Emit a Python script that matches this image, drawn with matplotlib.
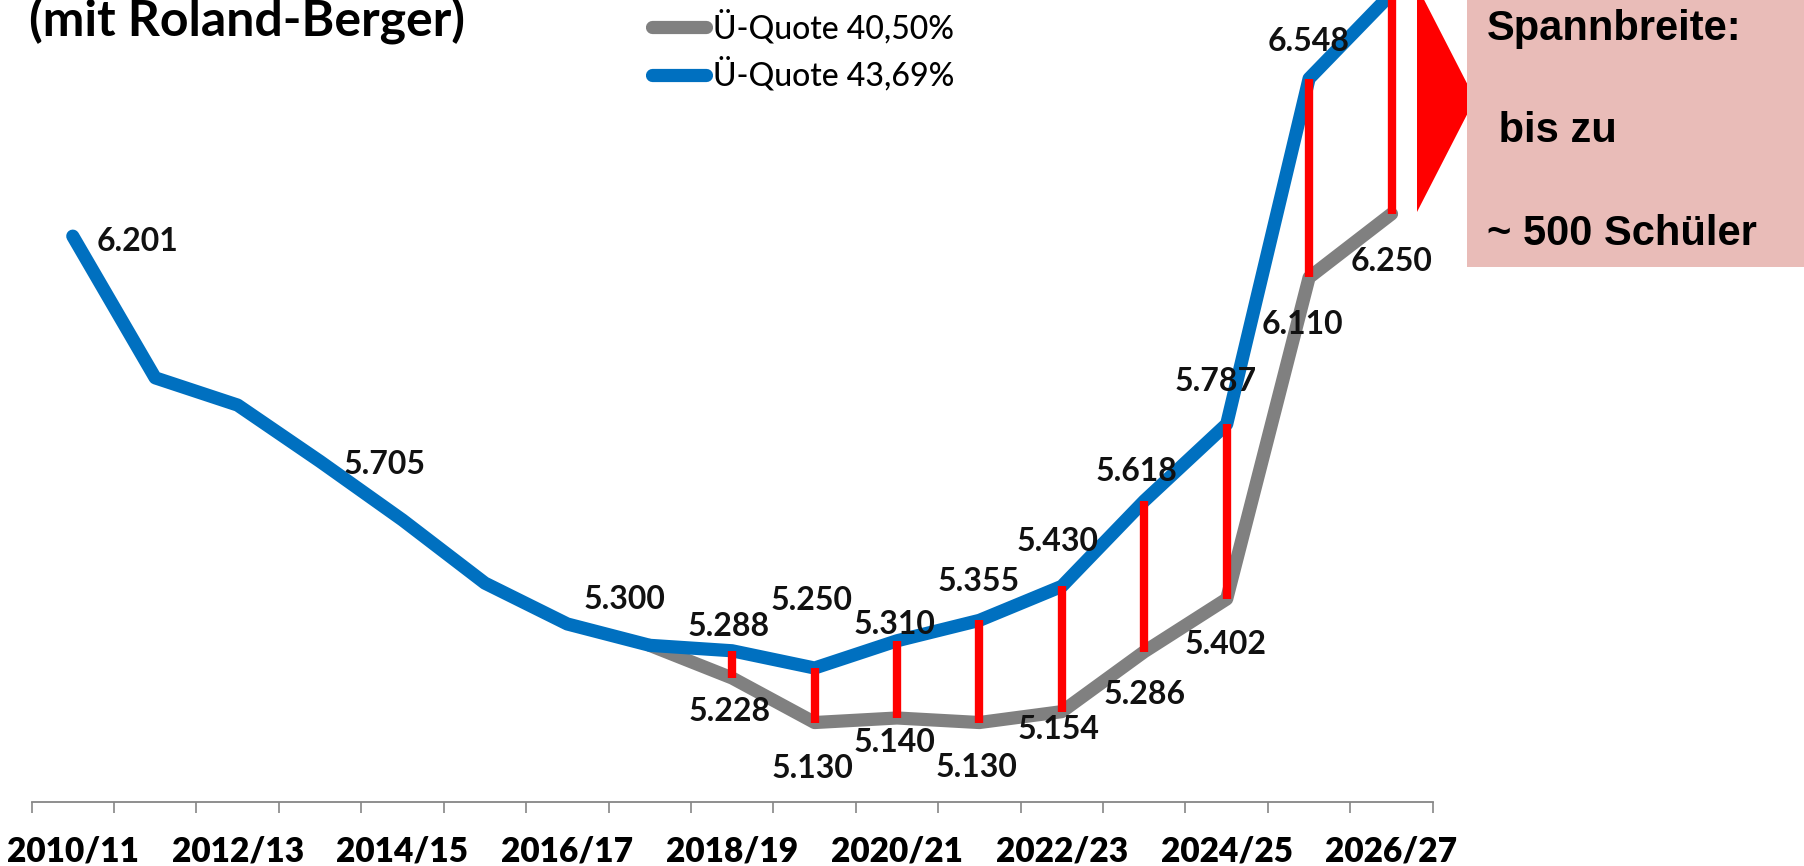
import numpy as np
import matplotlib.pyplot as plt
from matplotlib.patches import Polygon, Rectangle

# Schülerzahlen je Schuljahr
jahre = ['2010/11', '2011/12', '2012/13', '2013/14', '2014/15', '2015/16',
         '2016/17', '2017/18', '2018/19', '2019/20', '2020/21', '2021/22',
         '2022/23', '2023/24', '2024/25', '2025/26', '2026/27']
quote_4369 = [6201, 5889, 5829, 5705, 5576, 5437, 5347, 5300, 5288, 5250,
              5310, 5355, 5430, 5618, 5787, 6548, 6735]
quote_4050 = [np.nan] * 7 + [5300, 5228, 5130, 5140, 5130, 5154, 5286,
                             5402, 6110, 6250]
label_blau = [0, 3, 7, 8, 9, 10, 11, 12, 13, 14, 15]
label_grau = [8, 9, 10, 11, 12, 13, 14, 15, 16]
legende = ['Ü-Quote 40,50%', 'Ü-Quote 43,69%']

# Versatz der Datenbeschriftungen in Pixeln
off_blau = {0: (65, -5), 3: (65, -3), 7: (-25, 46), 8: (-4, 24), 9: (-3, 68),
            10: (-3, 16), 11: (-1, 39), 12: (-4, 45), 13: (-8, 29),
            14: (-11, 43), 15: (0, 37)}
off_grau = {8: (-3, -33), 9: (-2, -46), 10: (-3, -25), 11: (-3, -45),
            12: (-3, -18), 13: (0, -43), 14: (-1, -45), 15: (-7, -47),
            16: (0, -48)}

BLAU = '#0070C0'
GRAU = '#808080'
ROT = '#FF0000'


def fmt(v):
    return f'{int(v):,}'.replace(',', '.')


fig = plt.figure(figsize=(18.04, 8.66), dpi=100)
ax = fig.add_axes([0.0175, 0.0739, 0.7767, 0.9261])

x = np.arange(len(jahre))
b = np.array(quote_4369, dtype=float)
g = np.array(quote_4050, dtype=float)

ax.plot(x, g, color=GRAU, lw=9.5, solid_capstyle='round',
        solid_joinstyle='round', zorder=2, label=legende[0])
ax.plot(x, b, color=BLAU, lw=9.5, solid_capstyle='round',
        solid_joinstyle='round', zorder=3, label=legende[1])

m = ~np.isnan(g)
m[7] = False
ax.vlines(x[m], g[m], b[m], color=ROT, lw=6, zorder=4, capstyle='butt')

lab_font = dict(family='Lato', weight='bold', size=23, color='#111111')
for i in label_blau:
    ax.annotate(fmt(b[i]), (x[i], b[i]), xytext=off_blau[i],
                textcoords='offset pixels', ha='center', va='center',
                zorder=6, **lab_font)
for i in label_grau:
    ax.annotate(fmt(g[i]), (x[i], g[i]), xytext=off_grau[i],
                textcoords='offset pixels', ha='center', va='center',
                zorder=6, **lab_font)

ax.set_xlim(-0.5, len(jahre) - 0.5)
ax.set_ylim(4955, 6721)
ax.set_yticks([])
for s in ['left', 'right', 'top']:
    ax.spines[s].set_visible(False)
ax.spines['bottom'].set_color('#868686')
ax.spines['bottom'].set_linewidth(1.3)

ax.set_xticks(x[::2])
ax.set_xticklabels(jahre[::2], family='Lato', weight='heavy', size=24)
ax.tick_params(axis='x', which='major', length=0, pad=24)
ax.set_xticks(np.arange(-0.5, len(jahre), 1), minor=True)
ax.tick_params(axis='x', which='minor', length=8, width=1.2, color='#868686')

leg = ax.legend(loc='upper left', bbox_to_anchor=(652 / 1804, 1 - 10 / 866),
                bbox_transform=fig.transFigure, frameon=False,
                handlelength=1.7, handletextpad=0.22, borderpad=0,
                borderaxespad=0, labelspacing=0.4,
                prop=dict(family='Lato', size=23, weight='medium'))

# Titel (oben abgeschnitten)
fig.text(29 / 1804, 1 - 36 / 866, '(mit Roland-Berger)', family='Lato',
         weight='bold', size=36, va='baseline', ha='left')

# Pfeil und Kasten rechts oben
W, H = 1804, 866
tri = [(1417 / W, 1 + 14 / H), (1417 / W, 1 - 212 / H), (1475 / W, 1 - 99 / H)]
fig.patches.append(Polygon(tri, closed=True, transform=fig.transFigure,
                           facecolor=ROT, edgecolor='none'))
fig.patches.append(Rectangle((1467 / W, 1 - 267 / H), 1 - 1467 / W, 267 / H,
                             transform=fig.transFigure, facecolor='#E9BCB8',
                             edgecolor='none'))
box_font = dict(family='Liberation Sans', weight='bold', size=30,
                va='baseline', ha='left')
fig.text(1487 / W, 1 - 40 / H, 'Spannbreite:', **box_font)
fig.text(1487 / W, 1 - 142 / H, ' bis zu', **box_font)
fig.text(1487 / W, 1 - 245 / H, '~ 500 Schüler', **box_font)

fig.savefig('out.png', dpi=100)
